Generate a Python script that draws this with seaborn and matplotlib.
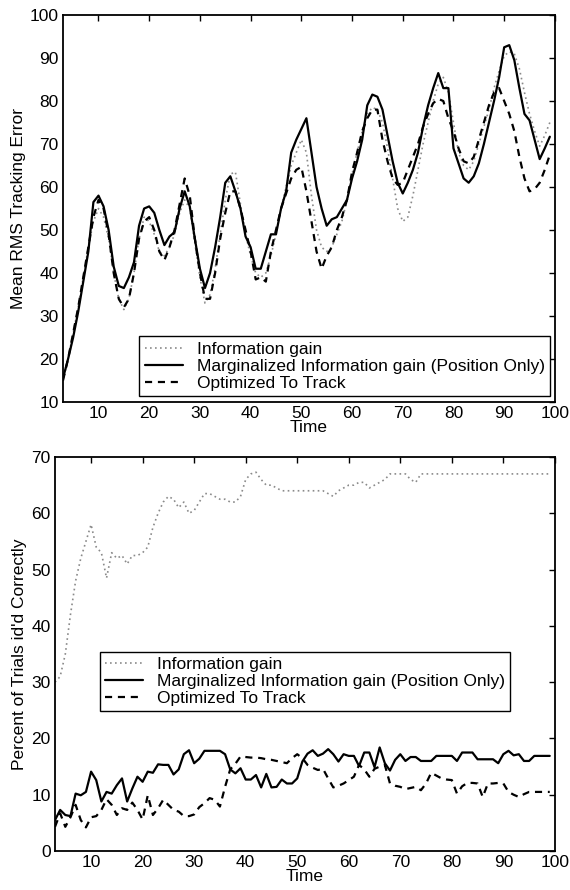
import numpy as np
import pandas as pd
import matplotlib
matplotlib.use("Agg")
import matplotlib.pyplot as plt
import seaborn as sns

time = list(range(3, 100))

labels = ["Information gain",
          "Marginalized Information gain (Position Only)",
          "Optimized To Track"]

# ---- top panel: Mean RMS Tracking Error ----
ig_top = [15, 20, 26, 32, 39, 46, 52, 55, 53, 48,
          40, 34, 31.5, 34, 40, 48, 53, 52, 49, 45,
          44, 46, 49, 54, 57, 55, 47, 39, 33, 35,
          41, 49, 57, 63, 63.5, 56, 49, 44, 40, 39,
          40, 44, 49, 55, 60, 65, 68, 71, 68, 58,
          50, 46, 45, 46, 49, 52, 57, 63, 68, 73,
          77, 78.5, 78, 75, 69, 62, 55, 52, 53, 58,
          64, 70, 75, 80, 84, 85.5, 82, 75, 68, 65,
          64, 66, 70, 74, 78, 83, 87, 90.5, 91.5, 91,
          87.5, 82, 77, 73, 69.5, 72, 75]
mig_top = [15.5, 20, 25, 31, 38, 45, 56.5, 58, 55.5, 50,
           41.5, 37, 36.5, 39, 42.5, 51, 55, 55.5, 54, 50,
           46.5, 48.5, 49.5, 55, 59, 55.5, 48, 41, 36.5, 40,
           46, 53, 61, 62.5, 59, 55, 48.5, 46, 41, 41,
           45, 49, 49, 55, 59, 68, 71, 73.5, 76, 68,
           60, 55, 51, 52.5, 53, 55, 57, 62, 66, 71,
           79, 81.5, 81, 78, 72, 66, 61, 58.5, 61, 64,
           68, 74, 79, 83, 86.5, 83, 83, 69, 65.5, 62,
           61, 62.5, 65.5, 70, 75, 80, 85.5, 92.5, 93, 89.5,
           83, 77, 75.5, 71, 66.5, 69, 71.7]
ott_top = [15, 20, 26, 32, 39, 46, 53, 57, 55, 49,
           40, 34, 32, 34, 40, 48, 52, 53, 50, 45,
           43, 46, 50, 56, 62, 58, 48, 40, 34, 34,
           40, 48, 54, 59, 59, 55, 50, 45, 38.5, 39,
           38, 45, 50, 55, 58.5, 62, 64, 64.7, 59, 52,
           45, 41, 44, 46, 50, 53, 57, 63.5, 68, 73,
           76, 78, 78, 71, 66, 62, 60.5, 61, 64, 67,
           70, 74, 77, 79.5, 80.5, 80, 76, 73, 69, 66,
           65.5, 67, 71, 75, 79, 82, 83, 80, 77, 73,
           67, 62, 59, 59.5, 61, 64, 67.5]

# ---- bottom panel: Percent of Trials id'd Correctly ----
ig_bot = [30, 31, 35, 42, 48, 52, 55, 58, 54, 53,
          48.5, 53, 52, 52.5, 51, 52.5, 52.5, 53, 54, 57.5,
          60, 62, 63, 62.5, 61, 62, 60, 60.5, 62, 63.5,
          63.5, 63, 62.5, 62.5, 62, 62, 63, 66, 67, 67.3,
          66, 65, 65, 64.5, 64, 64, 64, 64, 64, 64,
          64, 64, 64, 63.5, 63, 64, 64.5, 65, 65, 65.5,
          65.5, 64.5, 65, 65.5, 66, 67, 67, 67, 67, 66,
          65.5, 67, 67, 67, 67, 67, 67, 67, 67, 67,
          67, 67, 67, 67, 67, 67, 67, 67, 67, 67,
          67, 67, 67, 67, 67, 67, 67]
mig_bot = [5.5, 7.3, 6.4, 6.2, 10.2, 9.9, 10.5, 14.1, 12.6, 8.8,
           10.5, 10.2, 11.7, 12.9, 8.8, 11.1, 13.2, 12.3, 14.1, 13.9,
           15.4, 15.3, 15.3, 13.6, 14.5, 17.2, 17.9, 15.6, 16.4, 17.8,
           17.8, 17.8, 17.8, 17.2, 14.5, 13.8, 14.7, 12.7, 12.7, 13.5,
           11.3, 13.7, 11.3, 11.4, 12.7, 12, 12, 12.9, 15.9, 17.3,
           17.9, 16.9, 17.3, 18.1, 17.2, 15.9, 17.2, 16.9, 16.9, 15.1,
           17.5, 17.5, 14.9, 18.4, 15.6, 14.3, 16.2, 17.2, 16, 16.7,
           16.7, 16, 16, 16, 16.9, 16.9, 16.9, 16.9, 16, 17.5,
           17.5, 17.5, 16.3, 16.3, 16.3, 16.3, 15.6, 17.2, 17.8, 17,
           17.2, 16, 16, 16.9, 16.9, 16.9, 16.9]
ott_bot = [4.3, 6.7, 4.3, 6, 8.2, 5.5, 4.2, 6, 6.2, 7.3,
           9.2, 8.2, 6.4, 7.6, 7.3, 8.6, 7.3, 5.6, 9.9, 6.4,
           7.6, 9.1, 8.2, 7.3, 7, 6.2, 6.2, 6.5, 7.8, 8.5,
           9.4, 9.1, 7.9, 11.4, 14.5, 15.5, 16.8, 16.7, 16.6, 16.6,
           16.5, 16.3, 16.2, 16, 15.8, 15.6, 16.5, 17.2, 16.5, 15.3,
           14.8, 14.4, 14.6, 12.9, 11.3, 11.6, 12, 12.6, 13.2, 15.3,
           14.5, 13.2, 14.6, 15, 15.3, 12, 11.6, 11.4, 11, 11.2,
           11.4, 10.8, 12, 13.9, 13.4, 12.9, 12.7, 12.6, 10.2, 11.5,
           12.1, 12.1, 12, 9.6, 12, 12, 12.1, 12, 10.5, 10,
           9.6, 10.1, 10.5, 10.5, 10.5, 10.5, 10.5]

top_ticks_y = list(range(10, 101, 10))
bot_ticks_y = list(range(0, 71, 10))
ticks_x = list(range(10, 101, 10))

sns.set_theme(style="white")
plt.rcParams["font.family"] = ["Liberation Sans", "DejaVu Sans"]
plt.rcParams["text.color"] = "black"
plt.rcParams["axes.labelcolor"] = "black"

fig = plt.figure(figsize=(5.7, 8.9), dpi=100)
ax1 = fig.add_axes([0.1105, 0.5483, 0.863, 0.4348])
ax2 = fig.add_axes([0.0965, 0.0438, 0.877, 0.4427])

palette = {labels[0]: "#8a8a8a", labels[1]: "black", labels[2]: "black"}
dashes = {labels[0]: (1, 2), labels[1]: "", labels[2]: (3.2, 2.6)}
widths = {labels[0]: 1.2, labels[1]: 1.6, labels[2]: 1.6}

FS = 12.5


def build(ig, mig, ott):
    frames = []
    for lab, vals in zip(labels, [ig, mig, ott]):
        frames.append(pd.DataFrame({"Time": time, "value": vals, "series": lab}))
    return pd.concat(frames, ignore_index=True)


def draw(ax, df, ylim, yticks, ylabel, legend_kw):
    for lab in labels:
        sub = df[df["series"] == lab]
        sns.lineplot(data=sub, x="Time", y="value", ax=ax, color=palette[lab],
                     linewidth=widths[lab], label=lab, legend=False)
        line = ax.lines[-1]
        if dashes[lab]:
            line.set_dashes(dashes[lab])
    ax.set_xlim(3, 100)
    ax.set_ylim(*ylim)
    ax.set_xticks(ticks_x)
    ax.set_yticks(yticks)
    ax.tick_params(direction="in", length=4, width=1, top=True, right=True,
                   labelsize=FS, colors="black", pad=3)
    for s in ax.spines.values():
        s.set_visible(True)
        s.set_color("black")
        s.set_linewidth(1.3)
    ax.set_xlabel("Time", fontsize=FS, labelpad=-1, color="black")
    ax.set_ylabel(ylabel, fontsize=FS, labelpad=3, color="black")
    handles = ax.lines[:3]
    leg = ax.legend(handles, labels, fontsize=FS, frameon=True, fancybox=False,
                    edgecolor="black", framealpha=1, borderaxespad=0,
                    handlelength=2.2, handletextpad=0.8, borderpad=0.3,
                    labelspacing=0.1, **legend_kw)
    for t in leg.get_texts():
        t.set_color("black")
    leg.get_frame().set_linewidth(1.0)
    ax.grid(False)


draw(ax1, build(ig_top, mig_top, ott_top), (10, 100), top_ticks_y,
     "Mean RMS Tracking Error",
     dict(loc="lower right", bbox_to_anchor=(0.99, 0.016)))
draw(ax2, build(ig_bot, mig_bot, ott_bot), (0, 70), bot_ticks_y,
     "Percent of Trials id'd Correctly",
     dict(loc="upper left", bbox_to_anchor=(0.09, 0.505)))

fig.savefig("out.png", dpi=100, facecolor="white")
